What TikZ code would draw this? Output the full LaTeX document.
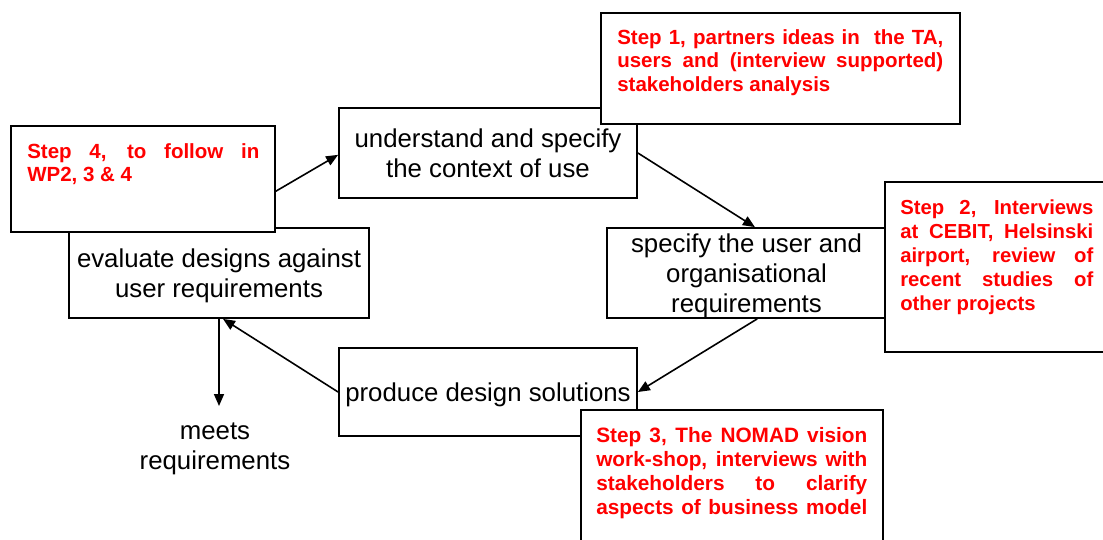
\documentclass[tikz,border=0pt]{standalone}
\usepackage{fontspec}
\setmainfont{Liberation Sans}
\usetikzlibrary{arrows.meta,calc}
\definecolor{stepred}{RGB}{255,0,0}
\begin{document}
\begin{tikzpicture}[x=1pt,y=-1pt,
  box/.style={draw,line width=1.8pt,fill=white,inner sep=2pt,align=center,
    text depth=0pt,font=\fontsize{25.8}{30}\selectfont},
  redbox/.style={draw,line width=1.8pt,fill=white,inner sep=0pt},
  redtext/.style={anchor=base west,inner sep=0pt,text=stepred,
    font=\fontsize{20.5}{23.8}\selectfont\bfseries},
  arr/.style={line width=1.6pt,-{Triangle[length=12pt,width=10pt]}},
  plain/.style={align=center,font=\fontsize{25.8}{30}\selectfont}
]
\useasboundingbox (0,0) rectangle (1103,539);
\clip (0,0) rectangle (1103,539);
\fill[white] (0,0) rectangle (1103,539);

% evaluate + step 4
\node[box,minimum width=300,minimum height=90] (eval) at (219,273)
  {evaluate designs against\\user requirements};
\node[redbox,minimum width=264,minimum height=106] (s4) at (143,179) {};
\node[redtext] (s4t) at ($(s4.north west)+(17,33)$)
  {\parbox[t]{232pt}{\makebox[232pt][s]{Step 4, to follow in}\\
   \makebox[232pt][l]{WP2, 3 \& 4}}};

% understand + step 1
\node[box,minimum width=298,minimum height=90] (und) at (488,153)
  {understand and specify\\the context of use};
\node[redbox,minimum width=359,minimum height=111] (s1) at (780.5,68.5) {};
\node[redtext] (s1t) at ($(s1.north west)+(17,32)$)
  {\parbox[t]{326pt}{\makebox[326pt][s]{Step 1, partners ideas in \ the TA,}\\
   \makebox[326pt][s]{users and (interview supported)}\\
   \makebox[326pt][l]{stakeholders analysis}}};

% specify + step 2
\node[box,minimum width=279,minimum height=90] (spec) at (746.5,273)
  {specify the user and\\organisational\\requirements};
\node[redbox,minimum width=230,minimum height=170] (s2) at (1000,267) {};
\node[redtext,font=\fontsize{20.3}{24.2}\selectfont\bfseries] (s2t) at ($(s2.north west)+(16,33)$)
  {\parbox[t]{193pt}{\makebox[193pt][s]{Step 2, Interviews}\\
   \makebox[193pt][s]{at CEBIT, Helsinski}\\
   \makebox[193pt][s]{airport, review of}\\
   \makebox[193pt][s]{recent studies of}\\
   \makebox[193pt][l]{other projects}}};

% produce + step 3
\node[box,minimum width=298,minimum height=88] (prod) at (488,392)
  {produce design solutions};
\node[redbox,minimum width=302,minimum height=150] (s3) at (732,485) {};
\node[redtext,font=\fontsize{20.8}{24.1}\selectfont\bfseries] (s3t) at ($(s3.north west)+(16,33)$)
  {\parbox[t]{271pt}{\makebox[271pt][s]{Step 3, The NOMAD vision}\\
   \makebox[271pt][s]{work-shop, interviews with}\\
   \makebox[271pt][s]{stakeholders to clarify}\\
   \makebox[271pt][s]{aspects of business model}}};

% outcome
\node[plain,anchor=north,inner xsep=0pt,inner ysep=17pt] (meets) at (215,406)
  {meets\\requirements};

% connectors
\draw[arr] ($(s4.north east)!0.613!(s4.south east)$) -- ($(und.north west)!0.52!(und.south west)$);
\draw[arr] (und.east) -- ($(spec.north west)!0.53!(spec.north east)$);
\draw[arr] ($(spec.south west)!0.538!(spec.south east)$) -- (prod.east);
\draw[arr] (prod.west) -- ($(eval.south)+(4,0)$);
\draw[arr] (eval.south) -- (eval.south |- meets.north);
\end{tikzpicture}
\end{document}
